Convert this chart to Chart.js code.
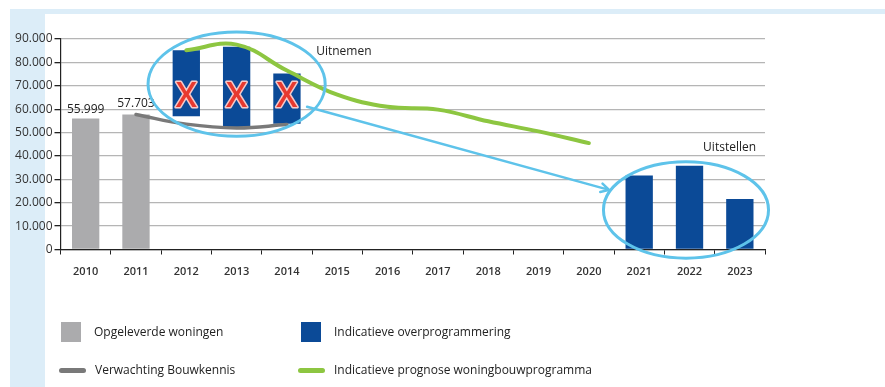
<!DOCTYPE html>
<html>
<head>
<meta charset="utf-8">
<script src="https://cdn.jsdelivr.net/npm/chart.js@4"></script>
<style>
  body { margin: 0; background: #fff; }
  #wrap { position: relative; width: 885px; height: 387px; overflow: hidden; background: #fff; font-family: "Open Sans", sans-serif; }
  .band-top { position: absolute; left: 10px; top: 9px; width: 875px; height: 5px; background: #dcedf8; }
  .band-left { position: absolute; left: 10px; top: 9px; width: 35px; height: 378px; background: #dcedf8; }
  #chart { position: absolute; left: 0; top: 0; }
  .lg { position: absolute; font-size: 12px; color: #222; line-height: 16px; white-space: nowrap; }
  .sw { position: absolute; }
</style>
</head>
<body>
<div id="wrap">
  <div class="band-top"></div>
  <div class="band-left"></div>
  <canvas id="chart" width="885" height="387"></canvas>
  <div id="legend"></div>
</div>
<script>
// Woningbouw: opgeleverd, verwachting en overprogrammering

const years = ['2010', '2011', '2012', '2013', '2014', '2015', '2016', '2017', '2018', '2019', '2020', '2021', '2022', '2023'];

// Opgeleverde woningen
const opgeleverd = [55999, 57703, null, null, null, null, null, null, null, null, null, null, null, null];

// Indicatieve overprogrammering (onder- en bovenkant van de balk)
const overLow  = [null, null, 57000, 51500, 53800, null, null, null, null, null, null, 0, 0, 0];
const overHigh = [null, null, 85200, 86700, 75200, null, null, null, null, null, null, 31600, 35800, 21600];

// Verwachting Bouwkennis
const bouwkennis = [null, 57703, 53600, 52000, 53400, null, null, null, null, null, null, null, null, null];

// Indicatieve prognose woningbouwprogramma
const prognose = [null, null, 85200, 87600, 76500, 66200, 61000, 59800, 54800, 50500, 45500, null, null, null];

const yMin = 0, yMax = 90000, yStep = 10000;

// Annotaties (in jaar-index en aantallen)
const crossYears = ['2012', '2013', '2014'];
const crossLevel = 65000;
const ellipses = [
  { cx: 3.0, cy: 70700, rx: 1.76, ry: 22300 },
  { cx: 11.93, cy: 16900, rx: 1.64, ry: 20600 }
];
const arrow = { x1: 4.4, y1: 61000, x2: 10.4, y2: 25500 };
const notes = [
  { text: 'Uitnemen', x: 4.58, y: 84700 },
  { text: 'Uitstellen', x: 12.27, y: 43500 }
];

const GRAY = '#ababad';
const BLUE = '#0b4a97';
const LINE_GRAY = '#797979';
const GREEN = '#8dc641';
const CYAN = '#5ec3ea';

function fmt(v) {
  return String(v).replace(/\B(?=(\d{3})+(?!\d))/g, '.');
}

const overData = overHigh.map((h, i) => h == null ? null : [overLow[i], h]);

const annotations = {
  id: 'annotations',
  afterDatasetsDraw(chart) {
    const ctx = chart.ctx;
    const xs = chart.scales.x, ys = chart.scales.y;

    // waarden boven de grijze balken
    ctx.save();
    ctx.font = '12px "Open Sans"';
    ctx.fillStyle = '#222';
    ctx.textAlign = 'center';
    ctx.textBaseline = 'bottom';
    chart.getDatasetMeta(0).data.forEach((el, i) => {
      if (opgeleverd[i] == null) return;
      ctx.fillText(fmt(opgeleverd[i]), el.x, el.y - (i === 0 ? 3 : 5));
    });
    ctx.restore();

    // rode kruizen
    ctx.save();
    ctx.font = '600 34px "Open Sans"';
    ctx.textAlign = 'center';
    ctx.textBaseline = 'middle';
    ctx.lineJoin = 'round';
    crossYears.forEach(yr => {
      const px = xs.getPixelForValue(years.indexOf(yr));
      const py = ys.getPixelForValue(crossLevel);
      ctx.lineWidth = 3;
      ctx.strokeStyle = '#f7c9c9';
      ctx.strokeText('X', px, py);
      ctx.fillStyle = '#e8392f';
      ctx.fillText('X', px, py);
    });
    ctx.restore();

    // ellipsen
    ctx.save();
    ctx.strokeStyle = CYAN;
    ctx.lineWidth = 3;
    ellipses.forEach(e => {
      const cx = xs.getPixelForValue(e.cx);
      const cy = ys.getPixelForValue(e.cy);
      const rx = xs.getPixelForValue(e.cx + e.rx) - cx;
      const ry = cy - ys.getPixelForValue(e.cy + e.ry);
      ctx.beginPath();
      ctx.ellipse(cx, cy, rx, ry, 0, 0, Math.PI * 2);
      ctx.stroke();
    });

    // pijl
    const ax1 = xs.getPixelForValue(arrow.x1), ay1 = ys.getPixelForValue(arrow.y1);
    const ax2 = xs.getPixelForValue(arrow.x2), ay2 = ys.getPixelForValue(arrow.y2);
    const ang = Math.atan2(ay2 - ay1, ax2 - ax1);
    ctx.lineWidth = 2.5;
    ctx.lineCap = 'round';
    ctx.beginPath();
    ctx.moveTo(ax1, ay1);
    ctx.lineTo(ax2, ay2);
    ctx.moveTo(ax2 - 9 * Math.cos(ang - 0.5), ay2 - 9 * Math.sin(ang - 0.5));
    ctx.lineTo(ax2, ay2);
    ctx.lineTo(ax2 - 9 * Math.cos(ang + 0.5), ay2 - 9 * Math.sin(ang + 0.5));
    ctx.stroke();
    ctx.restore();

    // teksten
    ctx.save();
    ctx.font = '12px "Open Sans"';
    ctx.fillStyle = '#222';
    ctx.textAlign = 'left';
    ctx.textBaseline = 'middle';
    notes.forEach(n => {
      ctx.fillText(n.text, xs.getPixelForValue(n.x), ys.getPixelForValue(n.y));
    });
    ctx.restore();
  }
};

const chart = new Chart(document.getElementById('chart'), {
  data: {
    labels: years,
    datasets: [
      {
        type: 'bar',
        label: 'Opgeleverde woningen',
        data: opgeleverd,
        backgroundColor: GRAY,
        grouped: false,
        order: 2
      },
      {
        type: 'bar',
        label: 'Indicatieve overprogrammering',
        data: overData,
        backgroundColor: BLUE,
        grouped: false,
        order: 2
      },
      {
        type: 'line',
        label: 'Verwachting Bouwkennis',
        data: bouwkennis,
        borderColor: LINE_GRAY,
        borderWidth: 3.5,
        borderCapStyle: 'round',
        tension: 0.4,
        pointRadius: 0,
        order: 1
      },
      {
        type: 'line',
        label: 'Indicatieve prognose woningbouwprogramma',
        data: prognose,
        borderColor: GREEN,
        borderWidth: 4,
        borderCapStyle: 'round',
        tension: 0.4,
        pointRadius: 0,
        order: 0
      }
    ]
  },
  options: {
    responsive: false,
    animation: false,
    devicePixelRatio: 1,
    layout: { padding: { left: 0, right: 120, top: 39, bottom: 0 } },
    datasets: {
      bar: { categoryPercentage: 1, barPercentage: 0.543 }
    },
    plugins: {
      legend: { display: false },
      tooltip: { enabled: false }
    },
    scales: {
      x: {
        afterFit: s => { s.height = 137.5; },
        grid: {
          offset: true,
          drawOnChartArea: false,
          color: '#222',
          tickLength: 5
        },
        border: { display: true, color: '#222', width: 1.2 },
        ticks: {
          color: '#333',
          padding: 11,
          font: { family: 'Open Sans', size: 11, weight: '600' }
        }
      },
      y: {
        min: yMin,
        max: yMax,
        afterFit: s => { s.width = 60.5; },
        grid: {
          color: '#b5b5b5',
          lineWidth: 1.3,
          tickColor: '#222',
          tickLength: 6
        },
        border: { display: true, color: '#222', width: 1.2 },
        ticks: {
          stepSize: yStep,
          color: '#333',
          padding: 2,
          font: { family: 'Open Sans', size: 12 },
          callback: v => fmt(v)
        }
      }
    }
  },
  plugins: [annotations]
});

// Legenda (2 x 2)
const legendSlots = [
  { left: 61, top: 332, kind: 'box' },
  { left: 301, top: 332, kind: 'box' },
  { left: 59, top: 370, kind: 'line' },
  { left: 298, top: 370, kind: 'line' }
];
const legendOrder = [0, 1, 2, 3];
const legendEl = document.getElementById('legend');
legendOrder.forEach((di, k) => {
  const ds = chart.data.datasets[di];
  const slot = legendSlots[k];
  const sw = document.createElement('div');
  sw.className = 'sw';
  if (slot.kind === 'box') {
    Object.assign(sw.style, { left: slot.left + 'px', top: (slot.top - 10) + 'px', width: '20px', height: '20px', background: ds.backgroundColor });
  } else {
    Object.assign(sw.style, { left: slot.left + 'px', top: (slot.top - 2.5) + 'px', width: '27px', height: '5px', borderRadius: '3px', background: ds.borderColor });
  }
  legendEl.appendChild(sw);
  const tx = document.createElement('div');
  tx.className = 'lg';
  tx.textContent = ds.label;
  tx.style.left = (slot.left + (slot.kind === 'box' ? 33 : 36)) + 'px';
  tx.style.top = (slot.top - 8) + 'px';
  legendEl.appendChild(tx);
});
</script>
</body>
</html>
